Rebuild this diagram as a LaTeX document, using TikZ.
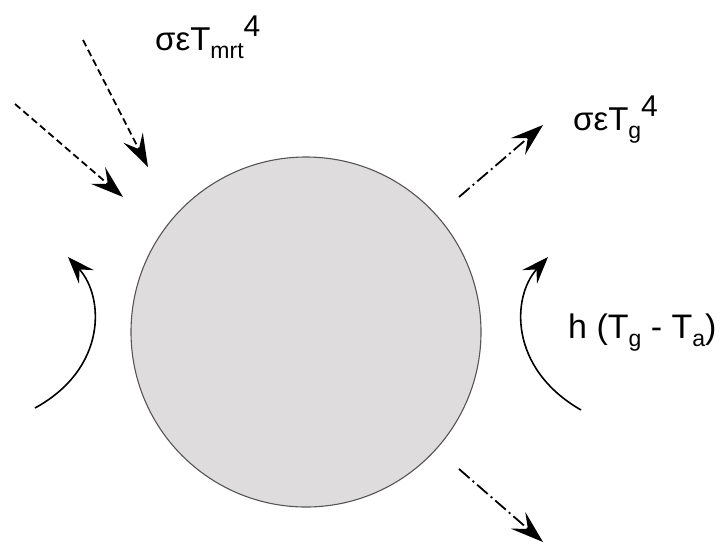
\documentclass[tikz,border=0pt]{standalone}
\usepackage{fontspec}
\setmainfont{Liberation Sans}
\usetikzlibrary{arrows.meta}
\definecolor{ballfill}{HTML}{DEDCDD}
\definecolor{balledge}{HTML}{555555}
\newcommand{\subtxt}[1]{\raisebox{-8pt}{\fontsize{23}{23}\selectfont #1}}
\newcommand{\suptxt}[1]{\raisebox{14pt}{\fontsize{30}{30}\selectfont #1}}
\begin{document}
\begin{tikzpicture}[x=1pt,y=-1pt,
  ballstyle/.style={circle, draw=balledge, line width=1.1pt, fill=ballfill, minimum size=350pt, inner sep=0pt},
  radin/.style={line width=1.8pt, dash pattern=on 7pt off 4pt, -{Stealth[length=33pt,width=22pt,inset=13pt]}},
  radout/.style={line width=1.8pt, dash pattern=on 14pt off 4pt on 2pt off 4pt, -{Stealth[length=33pt,width=22pt,inset=13pt]}},
  conv/.style={line width=1.6pt, -{Stealth[length=27pt,width=20pt,inset=10pt]}},
  lbl/.style={inner sep=0pt, anchor=base west, font=\fontsize{33}{36}\selectfont}]
\useasboundingbox (0,0) rectangle (727,544);
\node[ballstyle] (ball) at (306,332) {};
% incoming radiation
\coordinate (in1s) at (83,40);
\coordinate (in1e) at (148,167);
\coordinate (in2s) at (15,104);
\coordinate (in2e) at (123,197);
\draw[radin] (in1s) -- (in1e);
\draw[radin] (in2s) -- (in2e);
% outgoing radiation
\coordinate (out1s) at (459,197);
\coordinate (out1e) at (543,125);
\coordinate (out2s) at (459,469);
\coordinate (out2e) at (543,542);
\draw[radout] (out1s) -- (out1e);
\draw[radout] (out2s) -- (out2e);
% convection arcs
\coordinate (cl1) at (35,408);
\coordinate (cl2) at (68,257);
\coordinate (cr1) at (581,410);
\coordinate (cr2) at (548,257);
\draw[conv] (cl1) .. controls (108,368) and (104,296) .. (cl2);
\draw[conv] (cr1) .. controls (508,368) and (512,296) .. (cr2);
% labels
\node[lbl] (mrt) at (155,50) {σεT\subtxt{mrt}\suptxt{4}};
\node[lbl] (tg) at (573,130) {σεT\subtxt{g}\suptxt{4}};
\node[lbl, font=\fontsize{34}{36}\selectfont] (conv) at (568,338) {h (T\subtxt{g} - T\subtxt{a})};
\end{tikzpicture}
\end{document}
